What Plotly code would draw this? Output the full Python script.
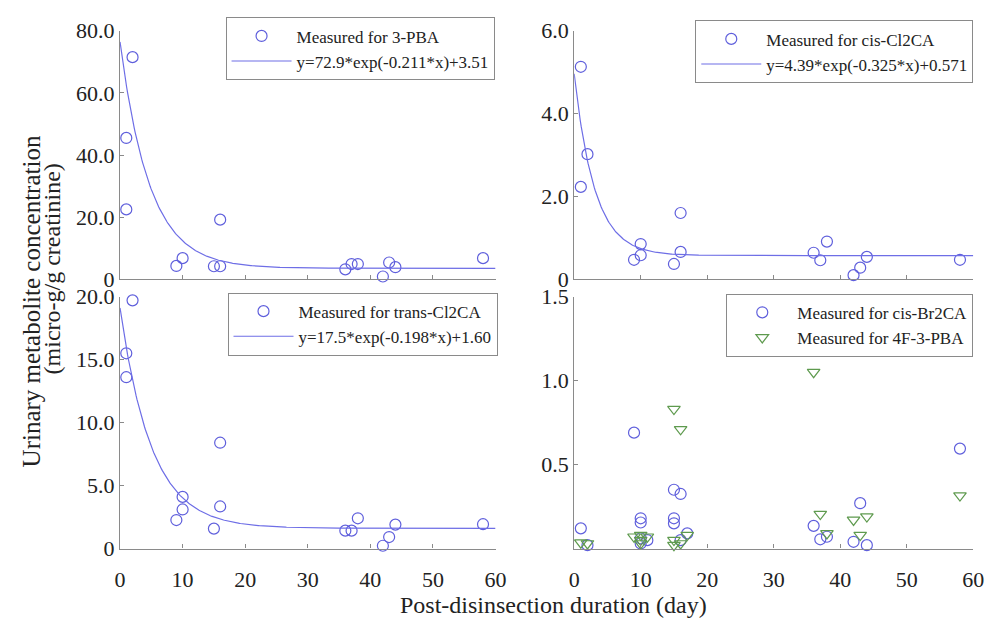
import numpy as np
import plotly.graph_objects as go

# ---------------- data ----------------
pba_days = [1, 1, 2, 9, 10, 15, 16, 16, 36, 37, 38, 42, 43, 44, 58]
pba_vals = [45.5, 22.5, 71.5, 4.3, 6.8, 4.2, 4.2, 19.2, 3.2, 4.9, 4.9, 0.9, 5.4, 3.9, 6.8]
pba_fit = [72.9, -0.211, 3.51]

ccl_days = [1, 1, 2, 9, 10, 10, 15, 16, 16, 36, 37, 38, 42, 43, 44, 58]
ccl_vals = [5.13, 2.23, 3.02, 0.47, 0.85, 0.58, 0.37, 1.6, 0.66, 0.64, 0.46, 0.91, 0.1, 0.28, 0.54, 0.47]
ccl_fit = [4.39, -0.325, 0.571]

tcl_days = [1, 1, 2, 9, 10, 10, 15, 16, 16, 36, 37, 38, 42, 43, 44, 58]
tcl_vals = [15.5, 13.6, 19.7, 2.26, 3.1, 4.1, 1.58, 8.4, 3.34, 1.42, 1.42, 2.4, 0.22, 0.91, 1.9, 1.93]
tcl_fit = [17.5, -0.198, 1.60]

br_days = [1, 2, 9, 10, 10, 10, 10, 11, 15, 15, 15, 16, 16, 17, 36, 37, 38, 42, 43, 44, 58]
br_vals = [0.12, 0.02, 0.69, 0.18, 0.155, 0.06, 0.03, 0.05, 0.35, 0.18, 0.15, 0.325, 0.05, 0.09,
           0.135, 0.055, 0.07, 0.04, 0.27, 0.02, 0.595]

f_days = [1, 2, 9, 10, 10, 10, 11, 15, 16, 15, 15, 16, 17, 36, 37, 38, 42, 43, 44, 58]
f_vals = [0.035, 0.03, 0.07, 0.08, 0.05, 0.03, 0.07, 0.83, 0.71, 0.05, 0.02, 0.03, 0.08,
          1.05, 0.205, 0.09, 0.17, 0.08, 0.19, 0.315]

x_ticks = [0, 10, 20, 30, 40, 50, 60]
y_ticks_tl = [0, 20, 40, 60, 80]
y_text_tl = ["0", "20.0", "40.0", "60.0", "80.0"]
y_ticks_tr = [0, 2, 4, 6]
y_text_tr = ["0", "2.0", "4.0", "6.0"]
y_ticks_bl = [0, 5, 10, 15, 20]
y_text_bl = ["0", "5.0", "10.0", "15.0", "20.0"]
y_ticks_br = [0.5, 1.0, 1.5]
y_text_br = ["0.5", "1.0", "1.5"]

# ---------------- styling ----------------
FONT = "Liberation Serif"
TXT = "#222222"
BLUE = "#5f5fdc"
LINE = "#6e6ee6"
GREEN = "#5e9a4e"
AX = "#8a8a8a"

xfit = np.linspace(0, 60, 400)


def fit_curve(p):
    return p[0] * np.exp(p[1] * xfit) + p[2]


fig = go.Figure()

circle = dict(symbol="circle-open", size=11, color=BLUE, line=dict(width=1.2, color=BLUE))

# panel 1 (top-left)
fig.add_trace(go.Scatter(x=pba_days, y=pba_vals, mode="markers", marker=circle,
                         name="Measured for 3-PBA", xaxis="x", yaxis="y", legend="legend",
                         cliponaxis=False))
fig.add_trace(go.Scatter(x=xfit, y=fit_curve(pba_fit), mode="lines", line=dict(color=LINE, width=1.2),
                         name="y=72.9*exp(-0.211*x)+3.51", xaxis="x", yaxis="y", legend="legend"))
# panel 2 (top-right)
fig.add_trace(go.Scatter(x=ccl_days, y=ccl_vals, mode="markers", marker=circle,
                         name="Measured for cis-Cl2CA", xaxis="x2", yaxis="y2", legend="legend2",
                         cliponaxis=False))
fig.add_trace(go.Scatter(x=xfit, y=fit_curve(ccl_fit), mode="lines", line=dict(color=LINE, width=1.2),
                         name="y=4.39*exp(-0.325*x)+0.571", xaxis="x2", yaxis="y2", legend="legend2"))
# panel 3 (bottom-left)
fig.add_trace(go.Scatter(x=tcl_days, y=tcl_vals, mode="markers", marker=circle,
                         name="Measured for trans-Cl2CA", xaxis="x3", yaxis="y3", legend="legend3",
                         cliponaxis=False))
fig.add_trace(go.Scatter(x=xfit, y=fit_curve(tcl_fit), mode="lines", line=dict(color=LINE, width=1.2),
                         name="y=17.5*exp(-0.198*x)+1.60", xaxis="x3", yaxis="y3", legend="legend3"))
# panel 4 (bottom-right)
fig.add_trace(go.Scatter(x=br_days, y=br_vals, mode="markers", marker=circle,
                         name="Measured for cis-Br2CA", xaxis="x4", yaxis="y4", legend="legend4",
                         cliponaxis=False))
fig.add_trace(go.Scatter(x=f_days, y=f_vals, mode="markers",
                         marker=dict(symbol="triangle-down-open", size=11, color=GREEN,
                                     line=dict(width=1.2, color=GREEN)),
                         name="Measured for 4F-3-PBA", xaxis="x4", yaxis="y4", legend="legend4",
                         cliponaxis=False))

tickfont = dict(family=FONT, size=22, color=TXT)


def xax(domain, anchor, labels):
    return dict(domain=domain, anchor=anchor, range=[0, 60], tickvals=x_ticks,
                showticklabels=labels, ticks="inside", ticklen=4, tickcolor=AX,
                showline=True, linecolor=AX, linewidth=1.2, showgrid=False, zeroline=False,
                tickfont=tickfont, ticklabelstandoff=11)


def yax(domain, anchor, rng, vals, text):
    return dict(domain=domain, anchor=anchor, range=rng, tickvals=vals, ticktext=text,
                ticks="inside", ticklen=4, tickcolor=AX,
                showline=True, linecolor=AX, linewidth=1.2, showgrid=False, zeroline=False,
                tickfont=tickfont, ticklabelstandoff=0)


XL = [0.116, 0.498]
XR = [0.578, 0.984]
YT = [0.5523, 0.9686]
YB = [0.1013, 0.5233]

legstyle = dict(bordercolor=AX, borderwidth=1, bgcolor="white",
                font=dict(family=FONT, size=17, color=TXT), xanchor="right", yanchor="top",
                tracegroupgap=0, itemwidth=60)

fig.update_layout(
    width=1000, height=622,
    margin=dict(l=0, r=0, t=0, b=0),
    paper_bgcolor="white", plot_bgcolor="white",
    font=dict(family=FONT, color=TXT),
    showlegend=True,
    xaxis=xax(XL, "y", False),
    yaxis=yax(YT, "x", [0, 80], y_ticks_tl, y_text_tl),
    xaxis2=xax(XR, "y2", False),
    yaxis2=yax(YT, "x2", [0, 6], y_ticks_tr, y_text_tr),
    xaxis3=xax(XL, "y3", True),
    yaxis3=yax(YB, "x3", [0, 20], y_ticks_bl, y_text_bl),
    xaxis4=xax(XR, "y4", True),
    yaxis4=yax(YB, "x4", [0, 1.5], y_ticks_br, y_text_br),
    legend=dict(x=0.497, y=0.991, **legstyle),
    legend2=dict(x=0.984, y=0.986, **legstyle),
    legend3=dict(x=0.500, y=0.530, **legstyle),
    legend4=dict(x=0.984, y=0.528, **legstyle),
    annotations=[
        dict(text="Urinary metabolite concentration",
             x=0.026, y=1 - 302 / 622, xref="paper", yref="paper", textangle=-90,
             showarrow=False, xanchor="center", yanchor="middle",
             font=dict(family=FONT, size=25, color=TXT)),
        dict(text="(micro-g/g creatinine)",
             x=0.047, y=1 - 268 / 622, xref="paper", yref="paper", textangle=-90,
             showarrow=False, xanchor="center", yanchor="middle",
             font=dict(family=FONT, size=24, color=TXT)),
        dict(text="Post-disinsection duration (day)",
             x=0.557, y=1 - 618 / 622, xref="paper", yref="paper", showarrow=False,
             xanchor="center", yanchor="middle",
             font=dict(family=FONT, size=24, color=TXT)),
    ],
)

fig.write_html("out.html")
